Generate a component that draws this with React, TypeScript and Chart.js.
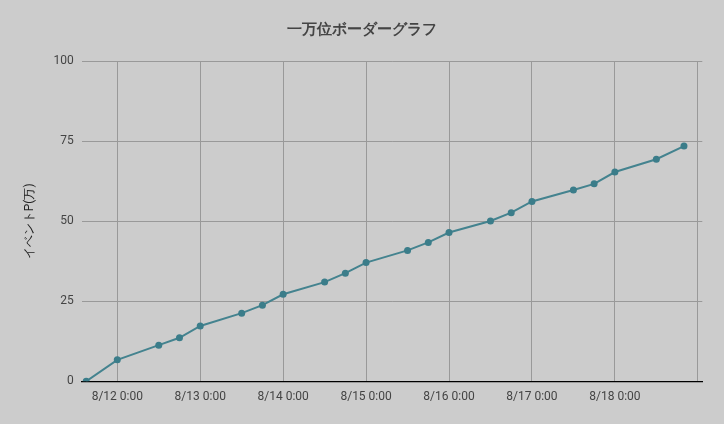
import React, { useEffect, useRef } from "react";
import { Chart, registerables } from "chart.js";

Chart.register(...registerables);

// hours relative to 8/12 0:00
const pointHours = [-9, 0, 12, 18, 24, 36, 42, 48, 60, 66, 72, 84, 90, 96, 108, 114, 120, 132, 138, 144, 156, 164];
const pointValues = [0, 6.7, 11.3, 13.6, 17.3, 21.3, 23.8, 27.2, 31.0, 33.8, 37.1, 40.9, 43.4, 46.5, 50.1, 52.7, 56.2, 59.8, 61.7, 65.4, 69.4, 73.5];

const xTickHours = [0, 24, 48, 72, 96, 120, 144, 168];
const xTickLabels = ["8/12 0:00", "8/13 0:00", "8/14 0:00", "8/15 0:00", "8/16 0:00", "8/17 0:00", "8/18 0:00"];
const yTicks = [0, 25, 50, 75, 100];

const chartTitle = "一万位ボーダーグラフ";
const yTitle = "イベントP(万)";

export default function App() {
  const canvasRef = useRef<HTMLCanvasElement | null>(null);

  useEffect(() => {
    document.body.style.margin = "0";
    const canvas = canvasRef.current;
    if (!canvas) return;
    Chart.defaults.font.family = "Roboto";
    const chart = new Chart(canvas, {
      type: "line",
      data: {
        datasets: [
          {
            data: pointHours.map((h, i) => ({ x: h, y: pointValues[i] })),
            borderColor: "#44838f",
            backgroundColor: "#3b7d8a",
            borderWidth: 2,
            pointRadius: 3.5,
            pointBorderWidth: 0,
            pointBackgroundColor: "#3b7d8a",
            tension: 0,
            fill: false,
          },
        ],
      },
      options: {
        animation: false,
        responsive: true,
        maintainAspectRatio: false,
        layout: { padding: 0 },
        plugins: {
          legend: { display: false },
          tooltip: { enabled: false },
          title: {
            display: true,
            text: chartTitle,
            color: "#444444",
            font: { size: 15, weight: "bold", family: "Roboto" },
            padding: { top: 21, bottom: 22.3 },
          },
        },
        scales: {
          x: {
            type: "linear",
            min: -10.3,
            max: 169.3,
            afterBuildTicks: (scale: any) => {
              scale.ticks = xTickHours.map((v) => ({ value: v }));
            },
            afterFit: (scale: any) => {
              scale.height = 42.7;
            },
            ticks: {
              autoSkip: false,
              maxRotation: 0,
              minRotation: 0,
              padding: 8,
              color: "#444444",
              font: { size: 12, family: "Roboto" },
              callback: (_v: any, index: number) => xTickLabels[index] ?? "",
            },
            grid: { color: "#999999", lineWidth: 1, drawTicks: false },
            border: { display: true, color: "#000000", width: 1.2 },
          },
          y: {
            min: 0,
            max: 100,
            afterBuildTicks: (scale: any) => {
              scale.ticks = yTicks.map((v) => ({ value: v }));
            },
            afterFit: (scale: any) => {
              scale.width = 81.7;
            },
            ticks: {
              padding: 8,
              color: "#444444",
              font: { size: 12, family: "Roboto" },
            },
            grid: {
              color: (ctx: any) => (ctx.tick && ctx.tick.value === 0 ? "rgba(0,0,0,0)" : "#999999"),
              lineWidth: 1,
              drawTicks: false,
            },
            border: { display: false },
            title: {
              display: true,
              text: yTitle,
              color: "#222222",
              font: { size: 12, family: "Roboto" },
              padding: { top: 22.8, bottom: 0 },
            },
          },
          spacer: {
            position: "right",
            display: true,
            afterFit: (scale: any) => {
              scale.width = 21.7;
            },
            ticks: { display: false },
            grid: { display: false, drawTicks: false },
            border: { display: false },
          },
        },
      },
    } as any);
    return () => chart.destroy();
  }, []);

  return (
    <div style={{ width: 724, height: 424, background: "#cccccc", position: "relative" }}>
      <canvas ref={canvasRef} />
    </div>
  );
}
